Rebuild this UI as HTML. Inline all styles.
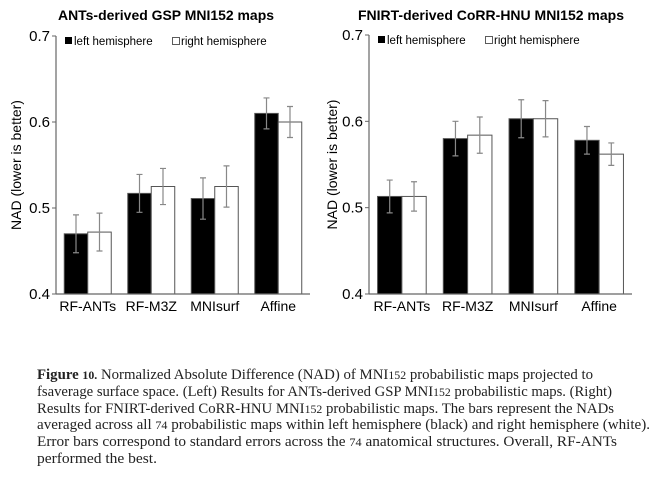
<!DOCTYPE html>
<html><head><meta charset="utf-8"><style>
html,body{margin:0;padding:0;background:#fff;}
svg{display:block;font-family:"Liberation Sans",Arial,sans-serif;}
.cap{font-family:"Liberation Serif",serif;font-size:15px;fill:#222;}
</style></head><body>
<svg id="fig" width="664" height="478" viewBox="0 0 664 478" xmlns="http://www.w3.org/2000/svg">
<g id="caption">
<text class="cap" x="37" y="379" textLength="556" lengthAdjust="spacingAndGlyphs"><tspan font-weight="bold">Figure</tspan> <tspan font-weight="bold" font-size="12">10.</tspan> Normalized Absolute Difference (NAD) of MNI<tspan font-size="12">152</tspan> probabilistic maps projected to</text>
<text class="cap" x="37" y="396" textLength="575" lengthAdjust="spacingAndGlyphs">fsaverage surface space. (Left) Results for ANTs-derived GSP MNI<tspan font-size="12">152</tspan> probabilistic maps. (Right)</text>
<text class="cap" x="37" y="413" textLength="577" lengthAdjust="spacingAndGlyphs">Results for FNIRT-derived CoRR-HNU MNI<tspan font-size="12">152</tspan> probabilistic maps. The bars represent the NADs</text>
<text class="cap" x="37" y="429" textLength="613" lengthAdjust="spacingAndGlyphs">averaged across all <tspan font-size="12">74</tspan> probabilistic maps within left hemisphere (black) and right hemisphere (white).</text>
<text class="cap" x="37" y="446" textLength="580" lengthAdjust="spacingAndGlyphs">Error bars correspond to standard errors across the <tspan font-size="12">74</tspan> anatomical structures. Overall, RF-ANTs</text>
<text class="cap" x="37" y="463" textLength="120" lengthAdjust="spacingAndGlyphs">performed the best.</text>
</g>
</svg>
<script>
const categories = ["RF-ANTs","RF-M3Z","MNIsurf","Affine"];
const ticks = [0.4,0.5,0.6,0.7];
const tickLabels = ["0.4","0.5","0.6","0.7"];
const leftLH = [0.470,0.517,0.511,0.610];
const leftRH = [0.472,0.525,0.525,0.600];
const leftLHerr = [0.022,0.022,0.024,0.018];
const leftRHerr = [0.022,0.021,0.024,0.018];
const rightLH = [0.513,0.580,0.603,0.578];
const rightRH = [0.513,0.584,0.603,0.562];
const rightLHerr = [0.019,0.020,0.022,0.016];
const rightRHerr = [0.017,0.021,0.021,0.013];

const NS="http://www.w3.org/2000/svg";
const svg=document.getElementById('fig');
function mk(tag,attrs,parent){const e=document.createElementNS(NS,tag);for(const k in attrs)e.setAttribute(k,attrs[k]);(parent||svg).appendChild(e);return e;}

function chart(prefix,x0,x1,yTop,yBot,title,titleX,titleW,yTitleX,lh,rh,lhe,rhe){
  const g=mk('g',{});
  
  
  const yS=v=>yBot-(v-0.4)/0.3*(yBot-yTop);
  const gw=(x1-x0)/categories.length;
  const bw=gw*0.37;
  const t=mk('text',{x:titleX,y:20,'text-anchor':'middle','font-size':14,'font-weight':'bold',fill:'#000',textLength:titleW,lengthAdjust:'spacingAndGlyphs'},g);
  t.textContent=title;
  
  
  const yt=mk('text',{x:yTitleX,y:(yTop+yBot)/2,'text-anchor':'middle','font-size':14,fill:'#000',transform:`rotate(-90 ${yTitleX} ${(yTop+yBot)/2})`},g);
  yt.textContent='NAD (lower is better)';
  
  
  ticks.forEach((v,i)=>{
    const y=yS(v);
    mk('line',{x1:x0-4,x2:x0,y1:y,y2:y,stroke:'#666'},g);
    const tl=mk('text',{x:x0-6,y:y+5,'text-anchor':'end','font-size':15,fill:'#000'},g);
    tl.textContent=tickLabels[i];
    
    
  });
  categories.forEach((c,i)=>{
    const cx=x0+gw*(i+0.5);
    [[lh,lhe,'#000',cx-bw,'left'],[rh,rhe,'#fff',cx,'right']].forEach(([vals,errs,fill,bx,side])=>{
      const y=yS(vals[i]);
      const r=mk('rect',{x:bx,y:y,width:bw,height:yBot-y,fill:fill,stroke:'#555','stroke-width':1},g);
      
      
      const ex=bx+bw/2, y1=yS(vals[i]+errs[i]), y2=yS(vals[i]-errs[i]);
      const eb=mk('path',{d:`M${ex},${y1}V${y2}M${ex-3},${y1}H${ex+3}M${ex-3},${y2}H${ex+3}`,stroke:'#888','stroke-width':1.2,fill:'none'},g);
      
      
    });
    const xl=mk('text',{x:cx,y:yBot+17,'text-anchor':'middle','font-size':14,fill:'#000'},g);
    xl.textContent=c;
    
    
  });
  mk('line',{x1:x0,x2:x0,y1:yTop,y2:yBot,stroke:'#666','stroke-width':1.2},g);
  mk('line',{x1:x0,x2:x1,y1:yBot,y2:yBot,stroke:'#666','stroke-width':1.2},g);
  const lg=mk('g',{},g);
  
  
  mk('rect',{x:x0+9,y:yTop+1,width:7,height:7,fill:'#000'},lg);
  const l1=mk('text',{x:x0+18,y:yTop+9,'font-size':11.5,fill:'#000'},lg);l1.textContent='left hemisphere';
  
  
  mk('rect',{x:x0+116.5,y:yTop+1.5,width:7,height:7,fill:'#fff',stroke:'#333','stroke-width':0.8},lg);
  const l2=mk('text',{x:x0+125,y:yTop+9,'font-size':11.5,fill:'#000'},lg);l2.textContent='right hemisphere';
  
  
}
chart('left',56,310,36,294,'ANTs-derived GSP MNI152 maps',166,216,21,leftLH,leftRH,leftLHerr,leftRHerr);
chart('right',369,632,35,294,'FNIRT-derived CoRR-HNU MNI152 maps',491,266,337,rightLH,rightRH,rightLHerr,rightRHerr);
</script>
</body></html>
